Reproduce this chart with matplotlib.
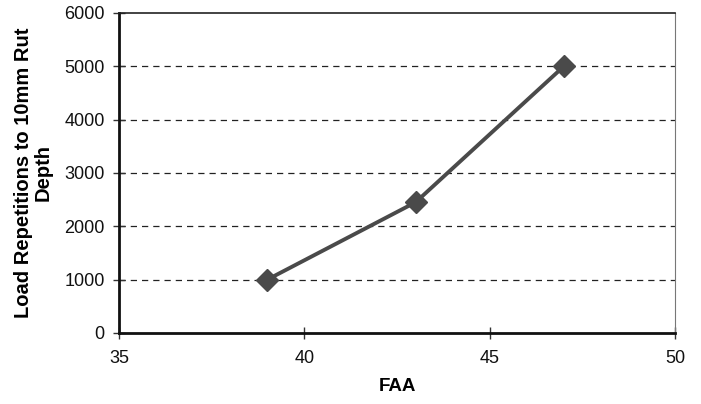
import matplotlib
matplotlib.use("Agg")
import matplotlib.pyplot as plt

plt.rcParams['font.family'] = ['Liberation Sans', 'DejaVu Sans']

faa = [39, 43, 47]
repetitions = [1000, 2450, 5000]
x_ticks = [35, 40, 45, 50]
y_ticks = [0, 1000, 2000, 3000, 4000, 5000, 6000]

fig = plt.figure(figsize=(7.01, 4.04), dpi=100)
ax = fig.add_axes([0.170, 0.176, 0.793, 0.792])

ax.plot(faa, repetitions, color='#4a4a4a', lw=2.8, marker='D', ms=11,
        markerfacecolor='#4a4a4a', markeredgecolor='#4a4a4a', zorder=3)

ax.set_xlim(35, 50)
ax.set_ylim(0, 6000)
ax.set_xticks(x_ticks)
ax.set_yticks(y_ticks)
ax.tick_params(axis='both', direction='inout', length=9, width=1,
               labelsize=13, color='#333333', labelcolor='#111111')
ax.tick_params(axis='y', pad=6)
ax.tick_params(axis='x', pad=8)

for y in y_ticks[1:-1]:
    ax.axhline(y, color='#222222', lw=0.9, ls=(0, (5, 4)), zorder=1)

ax.spines['left'].set_linewidth(2)
ax.spines['bottom'].set_linewidth(2)
ax.spines['left'].set_color('#111111')
ax.spines['bottom'].set_color('#111111')
ax.spines['top'].set_linewidth(1.2)
ax.spines['top'].set_color('#222222')
ax.spines['right'].set_linewidth(0.8)
ax.spines['right'].set_color('#777777')

ax.set_xlabel('FAA', fontsize=13.5, fontweight='bold', labelpad=8)
ax.set_ylabel('Load Repetitions to 10mm Rut\nDepth', fontsize=14.5,
              fontweight='bold', labelpad=8, linespacing=1.05)

fig.savefig('out.png', dpi=100)
